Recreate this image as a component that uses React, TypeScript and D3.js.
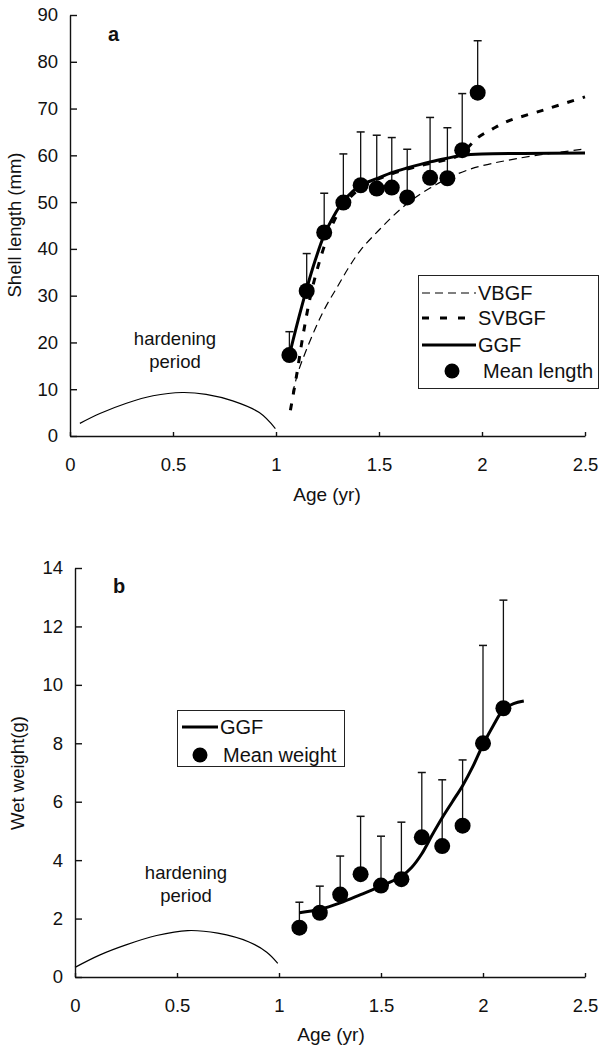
import React, { useRef, useEffect } from 'react';
import * as d3 from 'd3';

// Panel a: shell length
const ageA = [1.065, 1.149, 1.234, 1.327, 1.411, 1.489, 1.562, 1.637, 1.748, 1.832, 1.904, 1.979];
const lengthMean = [17.3, 31.0, 43.5, 49.9, 53.6, 52.9, 53.1, 51.0, 55.2, 55.1, 61.1, 73.4];
const lengthUpper = [22.3, 39.0, 51.9, 60.3, 65.0, 64.3, 63.8, 61.3, 68.1, 65.9, 73.2, 84.5];

// fitted curves, [age, length]
const vbgfA = [
  [1.08, 9], [1.11, 14], [1.187, 22.6], [1.24, 27.5], [1.298, 31.9],
  [1.35, 35.8], [1.41, 39.7], [1.504, 44.2], [1.618, 49.0], [1.748, 53.0], [1.926, 56.8],
  [2.168, 59.3], [2.49, 61.3],
];
const svbgfA = [
  [1.07, 5.5], [1.10, 13], [1.133, 22], [1.173, 31], [1.23, 40], [1.28, 45.8], [1.327, 49.3],
  [1.41, 53], [1.5, 55], [1.6, 56.6], [1.7, 57.8], [1.8, 58.8], [1.88, 59.8], [1.93, 61.6],
  [1.98, 63.8], [2.05, 65.6], [2.12, 67.2], [2.3, 69.7], [2.5, 72.5],
];
const ggfA = [
  [1.065, 17.3], [1.10, 23.5], [1.149, 31.5], [1.19, 37.5], [1.234, 43], [1.28, 47],
  [1.327, 50.2], [1.37, 52.2], [1.411, 53.6], [1.489, 55.0], [1.562, 56.3], [1.637, 57.3],
  [1.748, 58.6], [1.832, 59.4], [1.904, 60.0], [2.0, 60.3], [2.2, 60.4], [2.5, 60.5],
];
const hardeningA = [
  [0.048, 2.7], [0.145, 4.8], [0.274, 7.0], [0.403, 8.6], [0.545, 9.3], [0.661, 8.9],
  [0.79, 7.5], [0.919, 5.0], [0.997, 1.6],
];

// Panel b: wet weight
const ageB = [1.1, 1.2, 1.3, 1.4, 1.5, 1.6, 1.7, 1.8, 1.9, 2.0, 2.1];
const weightMean = [1.69, 2.20, 2.82, 3.52, 3.13, 3.35, 4.78, 4.48, 5.18, 8.0, 9.2];
const weightUpper = [2.56, 3.11, 4.14, 5.50, 4.82, 5.30, 7.0, 6.75, 7.43, 11.35, 12.9];
const ggfB = [
  [1.1, 2.2], [1.2, 2.32], [1.3, 2.54], [1.4, 2.82], [1.5, 3.11], [1.6, 3.45], [1.65, 3.75],
  [1.7, 4.22], [1.75, 4.85], [1.8, 5.45], [1.85, 6.0], [1.9, 6.55], [1.95, 7.2], [2.0, 7.95],
  [2.05, 8.6], [2.1, 9.15], [2.15, 9.36], [2.2, 9.45],
];
const hardeningB = [
  [0, 0.33], [0.12, 0.75], [0.25, 1.1], [0.4, 1.42], [0.552, 1.59], [0.7, 1.5],
  [0.853, 1.2], [0.94, 0.85], [0.994, 0.47],
];

const xTicks = [0, 0.5, 1, 1.5, 2, 2.5];
const yTicksA = [0, 10, 20, 30, 40, 50, 60, 70, 80, 90];
const yTicksB = [0, 2, 4, 6, 8, 10, 12, 14];

const FONT = '"Liberation Sans", Arial, Helvetica, sans-serif';

const drawAxes = (svg, x, y, yTicks) => {
  const xAxis = svg.append('g')
    .attr('transform', `translate(0,${y(0)})`)
    .call(d3.axisBottom(x).tickValues(xTicks).tickFormat(d3.format('~g'))
      .tickSizeInner(-4).tickSizeOuter(0).tickPadding(22));
  const yAxis = svg.append('g')
    .attr('transform', `translate(${x(0)},0)`)
    .call(d3.axisLeft(y).tickValues(yTicks).tickFormat(d3.format('~g'))
      .tickSizeInner(-7).tickSizeOuter(0).tickPadding(12));
  [xAxis, yAxis].forEach(a => {
    a.attr('font-family', FONT).attr('font-size', 18.5);
    a.selectAll('path, line').attr('stroke', '#111').attr('stroke-width', 1.4);
    a.selectAll('text').attr('fill', '#111');
  });
};

const drawMeans = (svg, x, y, ages, means, uppers) => {
  ages.forEach((a, i) => {
    svg.append('line')
      .attr('x1', x(a)).attr('x2', x(a))
      .attr('y1', y(means[i])).attr('y2', y(uppers[i]))
      .attr('stroke', '#111').attr('stroke-width', 1.3);
    svg.append('line')
      .attr('x1', x(a) - 4).attr('x2', x(a) + 4)
      .attr('y1', y(uppers[i])).attr('y2', y(uppers[i]))
      .attr('stroke', '#111').attr('stroke-width', 1.5);
  });
};

const drawDots = (svg, x, y, ages, means) => {
  svg.append('g').selectAll('circle')
    .data(ages)
    .join('circle')
    .attr('cx', d => x(d))
    .attr('cy', (d, i) => y(means[i]))
    .attr('r', 8)
    .attr('fill', '#000');
};

const drawCurve = (svg, x, y, pts, width, dash) => {
  const line = d3.line().x(d => x(d[0])).y(d => y(d[1])).curve(d3.curveCatmullRom.alpha(0.5));
  svg.append('path')
    .attr('d', line(pts))
    .attr('fill', 'none')
    .attr('stroke', '#000')
    .attr('stroke-width', width)
    .attr('stroke-dasharray', dash);
};

const addText = (svg, x, y, str, opts = {}) => {
  const t = svg.append('text')
    .attr('x', x).attr('y', y)
    .attr('font-family', FONT)
    .attr('font-size', opts.size || 18)
    .attr('font-weight', opts.weight || 'normal')
    .attr('text-anchor', opts.anchor || 'start')
    .attr('fill', '#111')
    .text(str);
  if (opts.rotate) t.attr('transform', `rotate(-90,${x},${y})`);
  return t;
};

const App = () => {
  const ref = useRef(null);

  useEffect(() => {
    const svg = d3.select(ref.current);
    svg.selectAll('*').remove();

    // ----- panel a -----
    const xa = d3.scaleLinear().domain([0, 2.5]).range([70, 585]);
    const ya = d3.scaleLinear().domain([0, 90]).range([436, 15]);

    drawCurve(svg, xa, ya, hardeningA, 1.2, null);
    drawMeans(svg, xa, ya, ageA, lengthMean, lengthUpper);
    drawCurve(svg, xa, ya, vbgfA, 1.2, '8,5');
    drawCurve(svg, xa, ya, svbgfA, 3, '7,9');
    drawCurve(svg, xa, ya, ggfA, 3, null);
    drawDots(svg, xa, ya, ageA, lengthMean);
    drawAxes(svg, xa, ya, yTicksA);

    addText(svg, 108, 41, 'a', { size: 20, weight: 'bold' });
    addText(svg, 175, 345, 'hardening', { anchor: 'middle', size: 18.5 });
    addText(svg, 175, 368, 'period', { anchor: 'middle', size: 18.5 });
    addText(svg, 327, 501, 'Age (yr)', { anchor: 'middle', size: 19 });
    addText(svg, 21, 225, 'Shell length (mm)', { anchor: 'middle', rotate: true, size: 18.5 });

    // legend a
    const la = svg.append('g');
    la.append('rect')
      .attr('x', 418.5).attr('y', 275.5).attr('width', 180).attr('height', 113)
      .attr('fill', '#fff').attr('stroke', '#222').attr('stroke-width', 1);
    const rowsA = [
      { label: 'VBGF', y: 293, width: 1.2, dash: '8,5' },
      { label: 'SVBGF', y: 318, width: 3, dash: '7,11' },
      { label: 'GGF', y: 345, width: 3, dash: null },
    ];
    rowsA.forEach(r => {
      la.append('line')
        .attr('x1', 422).attr('x2', 476).attr('y1', r.y).attr('y2', r.y)
        .attr('stroke', '#000').attr('stroke-width', r.width)
        .attr('stroke-dasharray', r.dash);
      addText(la, 478, r.y + 7, r.label, { size: 20 });
    });
    la.append('circle').attr('cx', 452).attr('cy', 371).attr('r', 7.5).attr('fill', '#000');
    addText(la, 483, 378, 'Mean length', { size: 20 });

    // ----- panel b -----
    const xb = d3.scaleLinear().domain([0, 2.5]).range([75, 585]);
    const yb = d3.scaleLinear().domain([0, 14]).range([977, 568]);

    drawCurve(svg, xb, yb, hardeningB, 1.2, null);
    drawMeans(svg, xb, yb, ageB, weightMean, weightUpper);
    drawCurve(svg, xb, yb, ggfB, 3, null);
    drawDots(svg, xb, yb, ageB, weightMean);
    drawAxes(svg, xb, yb, yTicksB);

    addText(svg, 113, 593, 'b', { size: 20, weight: 'bold' });
    addText(svg, 186, 879, 'hardening', { anchor: 'middle', size: 18.5 });
    addText(svg, 186, 902, 'period', { anchor: 'middle', size: 18.5 });
    addText(svg, 331, 1041, 'Age (yr)', { anchor: 'middle', size: 19 });
    addText(svg, 24, 773, 'Wet weight(g)', { anchor: 'middle', rotate: true, size: 18.5 });

    // legend b
    const lb = svg.append('g');
    lb.append('rect')
      .attr('x', 177.5).attr('y', 710.5).attr('width', 167).attr('height', 56)
      .attr('fill', '#fff').attr('stroke', '#222').attr('stroke-width', 1);
    lb.append('line')
      .attr('x1', 182).attr('x2', 218).attr('y1', 727).attr('y2', 727)
      .attr('stroke', '#000').attr('stroke-width', 3);
    addText(lb, 220, 734, 'GGF', { size: 20 });
    lb.append('circle').attr('cx', 200).attr('cy', 755).attr('r', 7.5).attr('fill', '#000');
    addText(lb, 223, 762, 'Mean weight', { size: 20 });
  }, []);

  return (
    <svg
      ref={ref}
      width={600}
      height={1048}
      style={{ position: 'absolute', left: 0, top: 0, background: '#fff' }}
    />
  );
};

export default App;
